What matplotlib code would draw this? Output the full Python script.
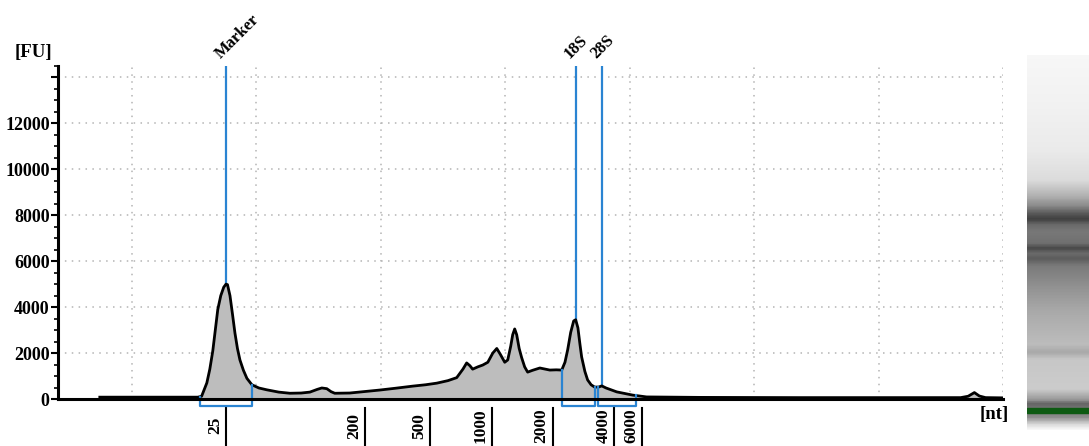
import numpy as np
import matplotlib
matplotlib.use("Agg")
import matplotlib.pyplot as plt
from matplotlib.colors import LinearSegmentedColormap
from matplotlib.ticker import MultipleLocator

plt.rcParams['font.family'] = ['Liberation Serif', 'DejaVu Serif']
plt.rcParams['font.weight'] = 'bold'

# electropherogram, migration time [s] vs fluorescence [FU]
t = [23.71, 25.72, 27.65, 27.80, 28.01, 28.13, 28.25, 28.35, 28.45, 28.57, 28.69, 28.78,
     28.84, 28.94, 29.04, 29.14, 29.24, 29.34, 29.48, 29.62, 29.82, 30.10, 30.42, 30.90,
     31.35, 31.80, 32.15, 32.45, 32.63, 32.83, 33.00, 33.15, 33.75, 34.96, 35.60, 36.28,
     36.80, 37.25, 37.70, 38.05, 38.30, 38.45, 38.58, 38.69, 38.90, 39.10, 39.30, 39.50,
     39.66, 39.80, 39.98, 40.10, 40.22, 40.30, 40.38, 40.46, 40.56, 40.66, 40.78, 40.90,
     41.10, 41.39, 41.79, 42.05, 42.27, 42.40, 42.51, 42.63, 42.75, 42.83, 42.92, 43.00,
     43.07, 43.20, 43.31, 43.45, 43.59, 43.75, 43.88, 44.05, 44.48, 45.12, 45.68, 47.81,
     51.83, 55.84, 58.30, 58.60, 58.85, 59.05, 59.30, 59.98]
fu = [80, 80, 80, 120, 700, 1300, 2100, 3000, 3900, 4500, 4870, 5000,
      4980, 4500, 3700, 2870, 2200, 1700, 1250, 900, 620, 480, 400, 300,
      250, 260, 300, 420, 480, 450, 320, 250, 260, 390, 470, 560,
      620, 690, 800, 930, 1300, 1570, 1450, 1300, 1400, 1480, 1600, 2000,
      2200, 1950, 1600, 1700, 2300, 2800, 3050, 2800, 2200, 1800, 1400, 1170,
      1250, 1350, 1260, 1270, 1260, 1600, 2150, 2900, 3400, 3450, 3100, 2400,
      1830, 1200, 830, 620, 520, 520, 570, 480, 310, 170, 90, 70,
      60, 60, 60, 120, 280, 130, 60, 50]

grid_t = [25, 30, 35, 40, 45, 50, 55, 60]

ladder_sizes = ['25', '200', '500', '1000', '2000', '4000', '6000']
ladder_t = [28.80, 34.36, 36.97, 39.45, 41.90, 44.38, 45.50]

peak_names = ['Marker', '18S', '28S']
peak_t = [28.80, 42.83, 43.88]

region_start = [27.73, 42.27, 43.71]
region_end = [29.82, 43.59, 45.24]

# gel lane, grey level from top (0) to bottom (1)
gel_pos = [0.0, 0.12, 0.253, 0.333, 0.373, 0.40, 0.422, 0.437, 0.452, 0.472, 0.501, 0.515,
           0.528, 0.544, 0.563, 0.613, 0.68, 0.773, 0.795, 0.813, 0.893, 0.92, 0.933,
           0.968, 0.987, 1.0]
gel_grey = [0.97, 0.95, 0.92, 0.86, 0.70, 0.56, 0.35, 0.25, 0.42, 0.47, 0.44, 0.28,
            0.42, 0.36, 0.48, 0.56, 0.66, 0.74, 0.66, 0.78, 0.80, 0.60, 0.40,
            0.55, 0.85, 0.97]
green_band = (0.941, 0.955)

blue = '#2a84d2'

fig = plt.figure(figsize=(10.89, 4.46), dpi=100)
ax = fig.add_axes([58 / 1089, 47 / 446, 945 / 1089, 333 / 446])

ax.set_xlim(22.03, 59.98)
ax.set_ylim(0, 14500)

ax.fill_between(t, fu, 0, color='#bdbdbd', zorder=3, lw=0)
ax.plot(t, fu, color='black', lw=2.0, zorder=4)

for name, x in zip(peak_names, peak_t):
    ax.axvline(x, color=blue, lw=1.6, zorder=2)
    ax.annotate(name, (x, 14500), xytext=(-2, 3), textcoords='offset points',
                rotation=45, ha='left', va='bottom', rotation_mode='anchor',
                fontsize=12, fontweight='bold', annotation_clip=False)

# integration regions below the baseline
for a, b in zip(region_start, region_end):
    ya = np.interp(a, t, fu)
    yb = np.interp(b, t, fu)
    ax.plot([a, a, b, b], [ya, -300, -300, yb], color=blue, lw=1.6,
            zorder=5, clip_on=False)

# ladder sizes
tr = ax.get_xaxis_transform()
for lab, x in zip(ladder_sizes, ladder_t):
    ax.plot([x, x], [-0.027, -0.145], color='black', lw=1.5, transform=tr, clip_on=False)
    ax.annotate(lab, (x, -0.08), xycoords=tr, xytext=(-2, 0), textcoords='offset points',
                rotation=90, ha='right', va='center', fontsize=12.5, fontweight='bold',
                annotation_clip=False)

ax.set_xticks(grid_t)
ax.set_xticklabels([])
ax.tick_params(axis='x', length=0)
ax.set_yticks(range(0, 14001, 2000))
ax.set_yticklabels([str(v) if v < 14000 else '' for v in range(0, 14001, 2000)])
ax.yaxis.set_minor_locator(MultipleLocator(500))
ax.tick_params(axis='y', which='major', length=5, width=1.5, labelsize=13, pad=1)
ax.tick_params(axis='y', which='minor', length=3, width=1.2)
ax.grid(True, color='#b4b4b4', ls=(0, (1, 3.5)), lw=1.1, zorder=0)

for s in ['top', 'right']:
    ax.spines[s].set_visible(False)
ax.spines['left'].set_linewidth(2.2)
ax.spines['bottom'].set_linewidth(2.2)
ax.spines['bottom'].set_zorder(6)

fig.text(33 / 1089, 1 - 53 / 446, '[FU]', fontsize=13.5, fontweight='bold', ha='center', va='center')
fig.text(994 / 1089, 1 - 415 / 446, '[nt]', fontsize=13.5, fontweight='bold', ha='center', va='center')

# gel image
gax = fig.add_axes([1027 / 1089, 16 / 446, 62 / 1089, 375 / 446])
cmap = LinearSegmentedColormap.from_list('gel', [(p, (g, g, g)) for p, g in zip(gel_pos, gel_grey)])
gax.imshow(np.linspace(0, 1, 500).reshape(-1, 1), cmap=cmap, aspect='auto',
           extent=[0, 1, 1, 0], vmin=0, vmax=1)
gax.axhspan(green_band[0], green_band[1], color='#0d5a12')
gax.set_xlim(0, 1)
gax.set_ylim(1, 0)
gax.axis('off')

fig.savefig('out.png', dpi=100)
